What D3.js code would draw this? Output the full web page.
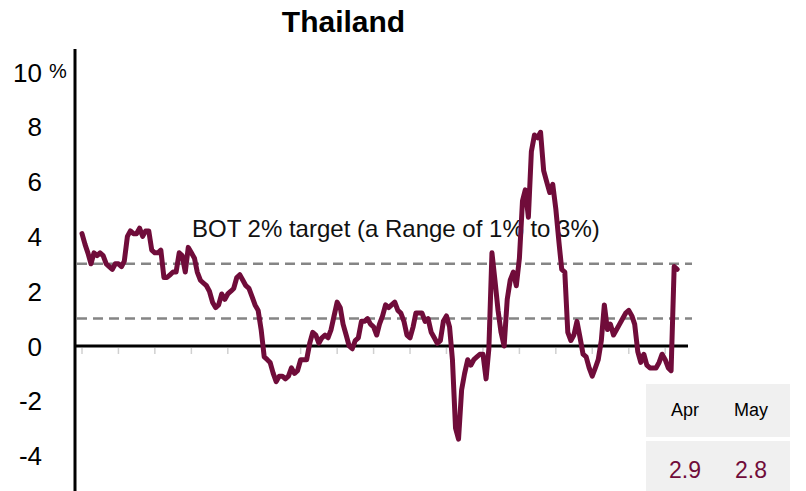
<!DOCTYPE html>
<html>
<head>
<meta charset="utf-8">
<script src="https://cdn.jsdelivr.net/npm/d3@7"></script>
<style>
  body { margin: 0; background: #fff; }
  svg { display: block; font-family: "Liberation Sans", Arial, sans-serif; }
</style>
</head>
<body>
<svg id="chart" width="806" height="491"></svg>
<script>
// Thailand headline CPI, % y/y, monthly from Jan 2010
const startYear = 2010;
const cpi = [
  // 2010
  4.1, 3.7, 3.4, 3.0, 3.4, 3.3, 3.4, 3.3, 3.0, 2.9, 2.8, 3.0,
  // 2011
  3.0, 2.9, 3.1, 4.0, 4.2, 4.1, 4.1, 4.3, 4.0, 4.2, 4.2, 3.5,
  // 2012
  3.4, 3.4, 3.5, 2.5, 2.5, 2.6, 2.7, 2.7, 3.4, 3.3, 2.7, 3.6,
  // 2013
  3.4, 3.2, 2.7, 2.4, 2.3, 2.2, 2.0, 1.6, 1.4, 1.5, 1.9, 1.7,
  // 2014
  1.9, 2.0, 2.1, 2.5, 2.6, 2.4, 2.2, 2.1, 1.8, 1.5, 1.3, 0.6,
  // 2015
  -0.4, -0.5, -0.6, -1.0, -1.3, -1.1, -1.1, -1.2, -1.1, -0.8, -1.0, -0.9,
  // 2016
  -0.5, -0.5, -0.5, 0.1, 0.5, 0.4, 0.1, 0.3, 0.4, 0.3, 0.6, 1.1,
  // 2017
  1.6, 1.4, 0.8, 0.4, 0.0, -0.1, 0.2, 0.3, 0.9, 0.9, 1.0, 0.8,
  // 2018
  0.7, 0.4, 0.8, 1.1, 1.5, 1.4, 1.5, 1.6, 1.3, 1.2, 0.9, 0.4,
  // 2019
  0.3, 0.7, 1.2, 1.2, 1.2, 0.9, 1.0, 0.5, 0.3, 0.1, 0.2, 0.9,
  // 2020
  1.1, 0.7, -0.5, -3.0, -3.4, -1.6, -1.0, -0.5, -0.7, -0.5, -0.4, -0.3,
  // 2021
  -0.3, -1.2, -0.1, 3.4, 2.4, 1.3, 0.5, 0.0, 1.7, 2.4, 2.7, 2.2,
  // 2022
  3.2, 5.3, 5.7, 4.7, 7.1, 7.7, 7.6, 7.8, 6.4, 6.0, 5.6, 5.9,
  // 2023
  5.0, 3.8, 2.8, 2.7, 0.5, 0.2, 0.4, 0.9, 0.3, -0.3, -0.4, -0.8,
  // 2024
  -1.1, -0.8, -0.5, 0.2, 1.5, 0.6, 0.8, 0.4, 0.6, 0.8, 1.0, 1.2,
  // 2025
  1.3, 1.1, 0.8, -0.2, -0.6, -0.3, -0.7, -0.8, -0.8, -0.8, -0.6, -0.3,
  // 2026
  -0.5, -0.8, -0.9, 2.9, 2.8
];

const yTicks = [-4, -2, 0, 2, 4, 6, 8, 10];
const targetBand = [1, 3];
const tableMonths = ["Apr", "May"];
const tableValues = ["2.9", "2.8"];

const lineColor = "#700c3a";

const data = cpi.map((v, i) => ({ date: new Date(startYear, i, 1), value: v }));

const svg = d3.select("#chart");

const x = d3.scaleTime()
  .domain([new Date(2010, 0, 1), new Date(2026, 0, 1)])
  .range([82, 665.2]);

const y = d3.scaleLinear()
  .domain([-5, 10])
  .range([483, 72]);

// title
svg.append("text")
  .attr("x", 343.5)
  .attr("y", 32)
  .attr("text-anchor", "middle")
  .style("font-size", "30px")
  .style("font-weight", "bold")
  .style("fill", "#000")
  .text("Thailand");

// y tick labels
const yLabels = svg.append("g").attr("class", "y-labels");
yLabels.selectAll("text")
  .data(yTicks)
  .join("text")
  .attr("x", 42)
  .attr("y", d => y(d) + 9.5)
  .attr("text-anchor", "end")
  .style("font-size", "26px")
  .style("fill", "#000")
  .text(d => d < 0 ? "-" + Math.abs(d) : d);

svg.append("text")
  .attr("x", 49)
  .attr("y", y(10) + 6)
  .style("font-size", "20px")
  .style("fill", "#000")
  .text("%");

// target band lines (dashed)
svg.append("g")
  .selectAll("line")
  .data(targetBand)
  .join("line")
  .attr("x1", 77)
  .attr("x2", 692)
  .attr("y1", d => y(d))
  .attr("y2", d => y(d))
  .attr("stroke", "#858585")
  .attr("stroke-width", 2.5)
  .attr("stroke-dasharray", "10,6");

svg.append("text")
  .attr("x", 192)
  .attr("y", 237)
  .style("font-size", "24px")
  .style("fill", "#111")
  .text("BOT 2% target (a Range of 1% to 3%)");

// yearly ticks below the zero line
const years = d3.timeYear.range(new Date(2010, 0, 1), new Date(2026, 0, 2));
svg.append("g")
  .selectAll("line")
  .data(years)
  .join("line")
  .attr("x1", d => x(d))
  .attr("x2", d => x(d))
  .attr("y1", y(0) + 2)
  .attr("y2", y(0) + 8)
  .attr("stroke", "#d0d0d0")
  .attr("stroke-width", 1.5);

// zero line
svg.append("line")
  .attr("x1", 75)
  .attr("x2", 688)
  .attr("y1", y(0))
  .attr("y2", y(0))
  .attr("stroke", "#000")
  .attr("stroke-width", 3);

// y axis line
svg.append("line")
  .attr("x1", 75)
  .attr("x2", 75)
  .attr("y1", 49)
  .attr("y2", 491)
  .attr("stroke", "#000")
  .attr("stroke-width", 3);

// CPI line
const line = d3.line()
  .x(d => x(d.date))
  .y(d => y(d.value));

svg.append("path")
  .datum(data)
  .attr("d", line)
  .attr("fill", "none")
  .attr("stroke", lineColor)
  .attr("stroke-width", 5)
  .attr("stroke-linejoin", "round")
  .attr("stroke-linecap", "round");

// latest values table
const table = svg.append("g").attr("class", "latest");
table.append("rect")
  .attr("x", 646).attr("y", 384)
  .attr("width", 144).attr("height", 53)
  .attr("fill", "#f0f0f0");
table.append("rect")
  .attr("x", 646).attr("y", 441)
  .attr("width", 144).attr("height", 50)
  .attr("fill", "#f0f0f0");

const colX = [685, 751];
table.selectAll("text.month")
  .data(tableMonths)
  .join("text")
  .attr("class", "month")
  .attr("x", (d, i) => colX[i])
  .attr("y", 416)
  .attr("text-anchor", "middle")
  .style("font-size", "18px")
  .style("fill", "#000")
  .text(d => d);

table.selectAll("text.val")
  .data(tableValues)
  .join("text")
  .attr("class", "val")
  .attr("x", (d, i) => colX[i])
  .attr("y", 478)
  .attr("text-anchor", "middle")
  .style("font-size", "23px")
  .style("fill", lineColor)
  .text(d => d);
</script>
</body>
</html>
